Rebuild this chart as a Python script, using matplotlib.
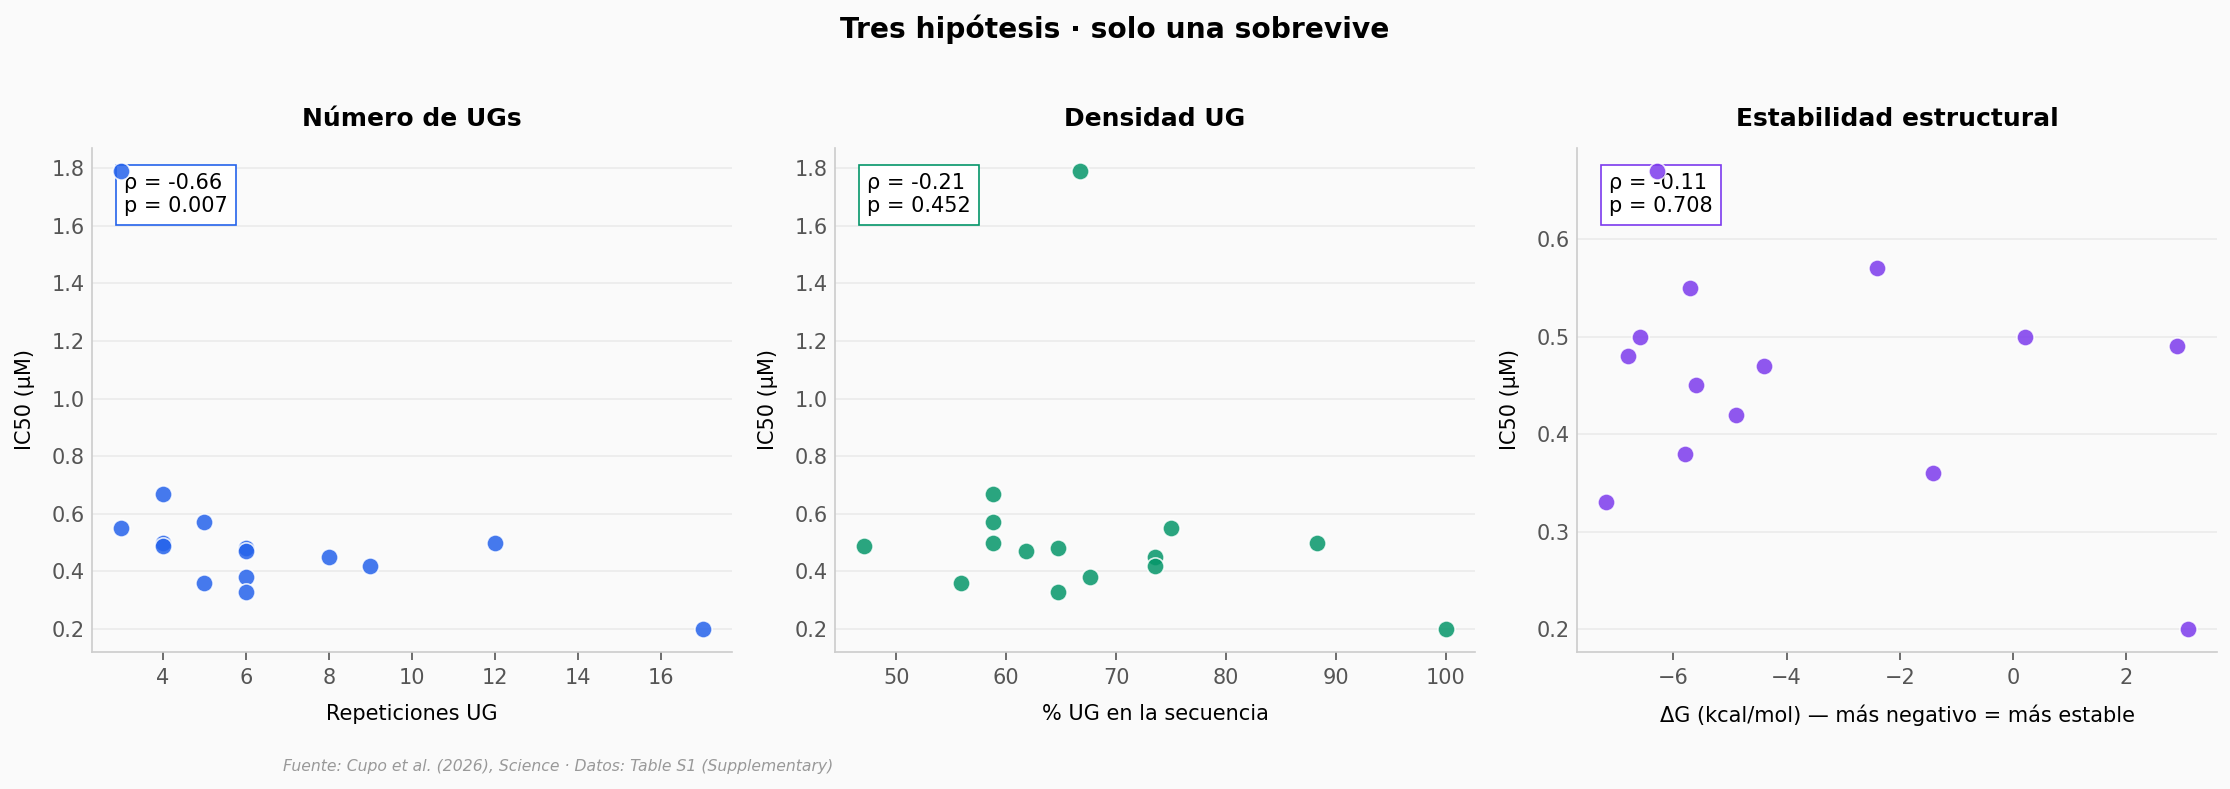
import matplotlib
matplotlib.use("Agg")
import matplotlib.pyplot as plt

# --- datos ---
ic50 = [1.79, 0.55, 0.67, 0.50, 0.49, 0.57, 0.36, 0.48, 0.47, 0.38, 0.33, 0.45, 0.42, 0.50, 0.20]
ug_repeats = [3, 3, 4, 4, 4, 5, 5, 6, 6, 6, 6, 8, 9, 12, 17]

ug_density = [47.06, 55.88, 58.82, 58.82, 58.82, 61.76, 64.71, 64.71, 66.67, 67.65, 73.53, 73.53, 75.0, 88.24, 100.0]
ic50_density = [0.49, 0.36, 0.67, 0.57, 0.50, 0.47, 0.48, 0.33, 1.79, 0.38, 0.45, 0.42, 0.55, 0.50, 0.20]

delta_g = [-7.19, -6.80, -6.59, -6.29, -5.80, -5.71, -5.60, -4.89, -4.40, -2.40, -1.41, 0.21, 2.90, 3.09]
ic50_dg = [0.33, 0.48, 0.50, 0.67, 0.38, 0.55, 0.45, 0.42, 0.47, 0.57, 0.36, 0.50, 0.49, 0.20]

rho = [-0.66, -0.21, -0.11]
pvals = [0.007, 0.452, 0.708]

titles = ["Número de UGs", "Densidad UG", "Estabilidad estructural"]
xlabels = ["Repeticiones UG", "% UG en la secuencia", "ΔG (kcal/mol) — más negativo = más estable"]
colors = ["#2563eb", "#059669", "#7c3aed"]

BG = "#fafafa"

fig = plt.figure(figsize=(2230 / 150, 789 / 150), dpi=150, facecolor=BG)

panels = [(ug_repeats, ic50), (ug_density, ic50_density), (delta_g, ic50_dg)]
lefts = [92, 835, 1577]
for i, (xs, ys) in enumerate(panels):
    ax = fig.add_axes([lefts[i] / 2230, 1 - 652 / 789, 640 / 2230, 504 / 789])
    ax.set_facecolor(BG)
    ax.scatter(xs, ys, s=68, color=colors[i], alpha=0.85, edgecolors="white",
               linewidths=0.8, zorder=3)
    ax.set_title(titles[i], fontsize=12, fontweight="bold", pad=10.5)
    ax.set_xlabel(xlabels[i], fontsize=10, labelpad=8)
    ax.set_ylabel("IC50 (µM)", fontsize=10, labelpad=8)
    ax.grid(axis="y", color="#ebebeb", linewidth=0.8)
    ax.set_axisbelow(True)
    for s in ("top", "right"):
        ax.spines[s].set_visible(False)
    for s in ("left", "bottom"):
        ax.spines[s].set_color("#cccccc")
    ax.tick_params(colors="#555555", labelsize=10, length=4)
    ax.tick_params(axis="y", length=0)
    ax.text(0.05, 0.95, f"ρ = {rho[i]:.2f}\np = {pvals[i]:.3f}", transform=ax.transAxes,
            fontsize=10, va="top", ha="left", zorder=2,
            bbox=dict(boxstyle="square,pad=0.4", facecolor="white", edgecolor=colors[i],
                      linewidth=0.8))

fig.suptitle("Tres hipótesis · solo una sobrevive", fontsize=13.5, fontweight="bold", y=0.982)
fig.text(283 / 2230, 1 - 766 / 789,
         "Fuente: Cupo et al. (2026), Science · Datos: Table S1 (Supplementary)",
         fontsize=7.5, style="italic", color="#999999", va="center", ha="left")

fig.savefig("out.png", dpi=150, facecolor=BG)
